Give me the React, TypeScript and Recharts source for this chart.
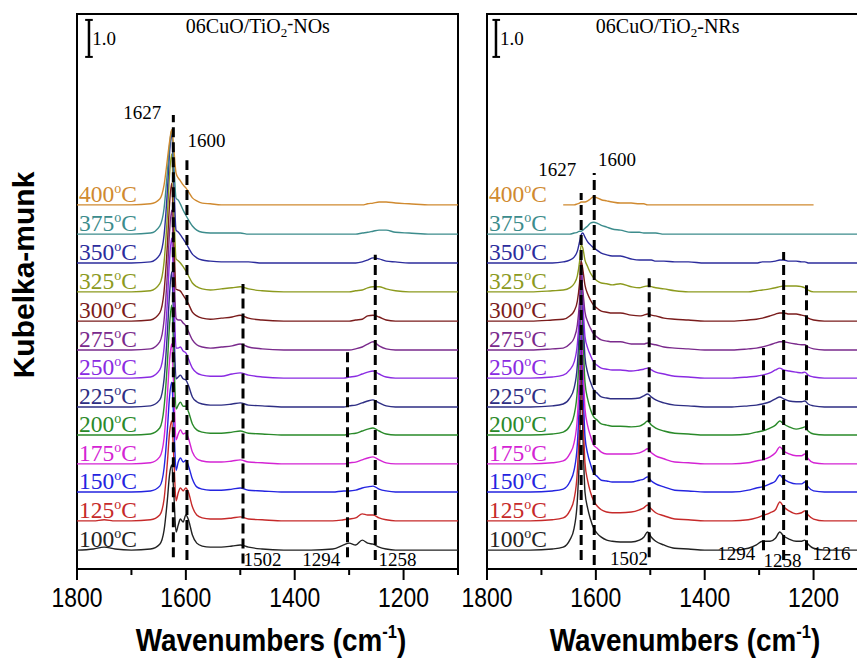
import React from 'react';
import { LineChart, Line, XAxis, YAxis, ReferenceLine, ReferenceDot, ReferenceArea } from 'recharts';

// ---------- data ----------
const TEMPS = [100, 125, 150, 175, 200, 225, 250, 275, 300, 325, 350, 375, 400];
const COLORS = ['#222222', '#c62a2a', '#2424e0', '#d424d4', '#2a8a2a', '#2e2e84', '#8a2be2', '#7a2a8c', '#7a1c1c', '#8c9a1e', '#2c2c9c', '#3c8c8c', '#d08a30'];
// vertical stacking offsets (Kubelka-Munk units)
const OFFSETS = [0.51, 1.3, 2.08, 2.84, 3.62, 4.38, 5.16, 5.92, 6.7, 7.49, 8.27, 9.05, 9.84];

const X_TICKS = [1800, 1700, 1600, 1500, 1400, 1300, 1200, 1100];

// 06CuO/TiO2-NOs
const WN_NOS = [1800, 1770, 1750, 1730, 1700, 1665, 1648, 1640, 1634, 1630, 1626, 1622, 1618, 1614, 1610, 1605, 1600, 1595, 1588, 1580, 1570, 1555, 1535, 1515, 1500, 1485, 1460, 1420, 1370, 1330, 1310, 1300, 1288, 1276, 1266, 1256, 1245, 1232, 1215, 1190, 1150, 1100];
const NOS_100 = [0, 0.03, 0.08, 0.03, 0, 0.03, 0.16, 0.54, 1.35, 2.03, 2.3, 1.49, 0.49, 0.68, 0.84, 0.76, 0.95, 0.81, 0.41, 0.19, 0.11, 0.08, 0.08, 0.11, 0.14, 0.08, 0.03, 0, 0, 0.03, 0.14, 0.19, 0.14, 0.27, 0.19, 0.16, 0.08, 0.03, 0, 0, 0, 0];
const NOS_125 = [0, 0, 0.03, 0, 0, 0.03, 0.16, 0.59, 1.57, 2.38, 2.7, 1.67, 0.54, 0.76, 0.89, 0.81, 0.89, 0.76, 0.38, 0.16, 0.08, 0.05, 0.05, 0.08, 0.11, 0.05, 0.03, 0, 0, 0, 0.03, 0.05, 0.08, 0.19, 0.16, 0.16, 0.08, 0.03, 0, 0, 0, 0];
const NOS_150 = [0, 0, 0, 0, 0, 0.03, 0.16, 0.65, 1.67, 2.57, 2.97, 1.84, 0.59, 0.81, 0.92, 0.81, 0.86, 0.7, 0.35, 0.14, 0.08, 0.05, 0.05, 0.08, 0.11, 0.05, 0.03, 0, 0, 0, 0.03, 0.03, 0.05, 0.11, 0.14, 0.16, 0.08, 0.03, 0, 0, 0, 0];
const NOS_175 = [0, 0, 0, 0, 0, 0.03, 0.19, 0.7, 1.84, 2.78, 3.24, 1.94, 0.65, 0.81, 0.92, 0.81, 0.84, 0.68, 0.32, 0.14, 0.08, 0.05, 0.05, 0.08, 0.11, 0.05, 0.03, 0, 0, 0, 0, 0.03, 0.05, 0.11, 0.16, 0.19, 0.11, 0.03, 0, 0, 0, 0];
const NOS_200 = [0, 0, 0, 0, 0, 0.03, 0.19, 0.76, 1.94, 2.97, 3.51, 2.11, 0.7, 0.81, 0.89, 0.78, 0.78, 0.62, 0.3, 0.14, 0.08, 0.05, 0.05, 0.08, 0.11, 0.05, 0.03, 0, 0, 0, 0, 0.03, 0.05, 0.11, 0.16, 0.19, 0.11, 0.03, 0, 0, 0, 0];
const NOS_225 = [0, 0, 0, 0, 0, 0.03, 0.19, 0.76, 2.0, 3.05, 3.65, 2.16, 0.76, 0.81, 0.86, 0.76, 0.73, 0.57, 0.27, 0.14, 0.08, 0.05, 0.05, 0.08, 0.11, 0.05, 0.03, 0, 0, 0, 0, 0.03, 0.05, 0.11, 0.16, 0.19, 0.11, 0.03, 0, 0, 0, 0];
const NOS_250 = [0, 0, 0, 0, 0, 0.03, 0.22, 0.81, 2.05, 3.19, 3.78, 2.27, 0.81, 0.81, 0.84, 0.73, 0.68, 0.51, 0.27, 0.14, 0.08, 0.05, 0.05, 0.11, 0.14, 0.08, 0.03, 0, 0, 0, 0, 0.03, 0.05, 0.11, 0.16, 0.19, 0.11, 0.03, 0, 0, 0, 0];
const NOS_275 = [0, 0, 0, 0, 0, 0.03, 0.22, 0.81, 2.05, 3.19, 3.78, 2.27, 0.86, 0.81, 0.81, 0.73, 0.65, 0.49, 0.27, 0.14, 0.08, 0.05, 0.08, 0.11, 0.16, 0.08, 0.03, 0, 0, 0, 0, 0, 0.03, 0.08, 0.16, 0.22, 0.11, 0.03, 0, 0, 0, 0];
const NOS_300 = [0, 0, 0, 0, 0, 0.03, 0.22, 0.81, 2.05, 3.16, 3.73, 2.24, 0.86, 0.84, 0.81, 0.7, 0.59, 0.46, 0.24, 0.14, 0.08, 0.05, 0.08, 0.11, 0.16, 0.08, 0.03, 0, 0, 0, 0, 0, 0.03, 0.05, 0.14, 0.16, 0.11, 0.03, 0, 0, 0, 0];
const NOS_325 = [0, 0, 0, 0, 0, 0.03, 0.22, 0.81, 2.05, 3.16, 3.73, 2.24, 0.89, 0.84, 0.78, 0.68, 0.57, 0.43, 0.24, 0.14, 0.08, 0.05, 0.08, 0.11, 0.14, 0.08, 0.03, 0, 0, 0, 0, 0, 0.03, 0.05, 0.11, 0.14, 0.14, 0.08, 0.03, 0, 0, 0];
const NOS_350 = [0, 0, 0, 0, 0, 0.03, 0.22, 0.76, 1.94, 2.97, 3.51, 2.16, 0.89, 0.84, 0.76, 0.65, 0.54, 0.41, 0.24, 0.14, 0.08, 0.05, 0.03, 0.03, 0.03, 0.03, 0, 0, 0, 0, 0, 0, 0, 0.03, 0.08, 0.14, 0.11, 0.05, 0.03, 0, 0, 0];
const NOS_375 = [0, 0, 0, 0, 0, 0.03, 0.22, 0.7, 1.67, 2.38, 2.81, 1.89, 0.97, 0.92, 0.81, 0.65, 0.51, 0.38, 0.22, 0.11, 0.05, 0.03, 0.03, 0.03, 0.03, 0, 0, 0, 0, 0, 0, 0, 0, 0.03, 0.05, 0.08, 0.11, 0.11, 0.05, 0.03, 0, 0];
const NOS_400 = [0, 0, 0, 0, 0, 0.03, 0.16, 0.54, 1.22, 1.7, 2.03, 1.49, 0.86, 0.73, 0.65, 0.54, 0.46, 0.35, 0.19, 0.11, 0.05, 0.03, 0, 0, 0, 0, 0, 0, 0, 0, 0, 0, 0, 0, 0.03, 0.05, 0.08, 0.08, 0.05, 0.03, 0, 0];

// 06CuO/TiO2-NRs
const WN_NRS = [1800, 1720, 1680, 1660, 1648, 1640, 1634, 1630, 1627, 1624, 1620, 1615, 1610, 1604, 1598, 1590, 1580, 1570, 1555, 1535, 1520, 1512, 1505, 1498, 1490, 1475, 1455, 1430, 1400, 1350, 1320, 1305, 1294, 1280, 1270, 1262, 1255, 1245, 1232, 1222, 1216, 1210, 1200, 1180, 1140, 1100];
const NRS_100 = [0, 0, 0.03, 0.08, 0.27, 0.59, 1.35, 2.7, 4.86, 3.24, 1.57, 1.13, 0.84, 0.59, 0.46, 0.35, 0.27, 0.24, 0.22, 0.22, 0.27, 0.35, 0.49, 0.35, 0.24, 0.14, 0.05, 0.03, 0, 0, 0.05, 0.14, 0.24, 0.24, 0.32, 0.49, 0.38, 0.3, 0.24, 0.24, 0.27, 0.16, 0.05, 0, 0, 0];
const NRS_125 = [0, 0, 0.03, 0.08, 0.27, 0.59, 1.35, 2.7, 4.73, 3.19, 1.57, 1.08, 0.78, 0.54, 0.41, 0.3, 0.24, 0.22, 0.22, 0.24, 0.3, 0.35, 0.43, 0.32, 0.22, 0.14, 0.05, 0.03, 0, 0, 0.03, 0.08, 0.14, 0.22, 0.3, 0.51, 0.38, 0.27, 0.19, 0.22, 0.27, 0.16, 0.05, 0, 0, 0];
const NRS_150 = [0, 0, 0.03, 0.08, 0.27, 0.59, 1.3, 2.65, 4.59, 3.11, 1.51, 1.03, 0.76, 0.51, 0.43, 0.32, 0.3, 0.27, 0.27, 0.27, 0.32, 0.35, 0.41, 0.3, 0.22, 0.14, 0.05, 0.03, 0, 0, 0.05, 0.11, 0.14, 0.22, 0.3, 0.46, 0.35, 0.27, 0.22, 0.22, 0.27, 0.14, 0.03, 0, 0, 0];
const NRS_175 = [0, 0, 0.03, 0.08, 0.27, 0.57, 1.24, 2.57, 4.46, 3.02, 1.49, 1.03, 0.76, 0.51, 0.43, 0.32, 0.27, 0.27, 0.27, 0.27, 0.3, 0.35, 0.41, 0.3, 0.22, 0.14, 0.05, 0.03, 0, 0, 0.03, 0.08, 0.11, 0.19, 0.3, 0.46, 0.35, 0.27, 0.22, 0.22, 0.27, 0.14, 0.03, 0, 0, 0];
const NRS_200 = [0, 0, 0.03, 0.08, 0.24, 0.54, 1.22, 2.48, 4.32, 2.92, 1.43, 0.97, 0.7, 0.49, 0.41, 0.3, 0.27, 0.24, 0.24, 0.22, 0.24, 0.3, 0.38, 0.27, 0.19, 0.11, 0.05, 0.03, 0, 0, 0.03, 0.08, 0.11, 0.19, 0.27, 0.38, 0.3, 0.22, 0.16, 0.19, 0.22, 0.11, 0.03, 0, 0, 0];
const NRS_225 = [0, 0, 0.03, 0.08, 0.24, 0.51, 1.13, 2.32, 4.05, 2.7, 1.35, 0.92, 0.68, 0.46, 0.38, 0.27, 0.24, 0.22, 0.22, 0.22, 0.24, 0.3, 0.35, 0.27, 0.19, 0.11, 0.05, 0.03, 0, 0, 0.03, 0.05, 0.08, 0.14, 0.22, 0.27, 0.22, 0.16, 0.14, 0.14, 0.16, 0.08, 0.03, 0, 0, 0];
const NRS_250 = [0, 0, 0.03, 0.08, 0.22, 0.43, 0.92, 1.78, 2.97, 2.11, 1.13, 0.81, 0.62, 0.43, 0.35, 0.27, 0.24, 0.22, 0.22, 0.19, 0.22, 0.24, 0.27, 0.22, 0.16, 0.11, 0.05, 0.03, 0, 0, 0.03, 0.05, 0.08, 0.14, 0.22, 0.27, 0.22, 0.19, 0.16, 0.14, 0.16, 0.08, 0.03, 0, 0, 0];
const NRS_275 = [0, 0, 0.03, 0.05, 0.16, 0.32, 0.68, 1.3, 2.03, 1.62, 1.03, 0.76, 0.59, 0.43, 0.35, 0.27, 0.24, 0.22, 0.22, 0.16, 0.16, 0.16, 0.19, 0.16, 0.14, 0.08, 0.05, 0.03, 0, 0, 0.03, 0.05, 0.08, 0.14, 0.19, 0.22, 0.22, 0.19, 0.16, 0.14, 0.14, 0.08, 0.03, 0, 0, 0];
const NRS_300 = [0, 0, 0.03, 0.05, 0.14, 0.27, 0.54, 1.03, 1.62, 1.4, 0.97, 0.73, 0.57, 0.43, 0.35, 0.27, 0.24, 0.22, 0.22, 0.16, 0.14, 0.16, 0.19, 0.16, 0.14, 0.08, 0.05, 0.03, 0, 0, 0.03, 0.05, 0.08, 0.14, 0.19, 0.22, 0.22, 0.19, 0.19, 0.16, 0.14, 0.08, 0.03, 0, 0, 0];
const NRS_325 = [0, 0, 0.03, 0.05, 0.11, 0.22, 0.43, 0.81, 1.27, 1.19, 0.86, 0.68, 0.51, 0.38, 0.3, 0.24, 0.22, 0.19, 0.22, 0.14, 0.11, 0.14, 0.16, 0.14, 0.11, 0.08, 0.03, 0, 0, 0, 0, 0.03, 0.05, 0.08, 0.11, 0.14, 0.16, 0.16, 0.16, 0.14, 0.11, 0.05, 0, 0, 0, 0];
const NRS_350 = [0, 0, 0, 0.03, 0.08, 0.16, 0.32, 0.57, 0.76, 0.81, 0.7, 0.57, 0.49, 0.41, 0.35, 0.27, 0.22, 0.19, 0.19, 0.11, 0.08, 0.08, 0.08, 0.08, 0.05, 0.05, 0.03, 0.03, 0, 0, 0, 0, 0.03, 0.03, 0.05, 0.08, 0.08, 0.05, 0.05, 0.03, 0.03, 0, 0, 0, 0, 0];
const NRS_375 = [0, 0, 0, 0, 0, 0.03, 0.05, 0.08, 0.08, 0.11, 0.16, 0.22, 0.3, 0.32, 0.3, 0.24, 0.19, 0.14, 0.11, 0.05, 0.05, 0.03, 0.03, 0.03, 0.03, 0, 0, 0, 0, 0, 0, 0, 0, 0, 0, 0, 0, 0, 0, 0, 0, 0, 0, 0, 0, 0];
const NRS_400 = [null, null, null, 0, 0, 0, 0.03, 0.05, 0.08, 0.08, 0.08, 0.11, 0.16, 0.22, 0.19, 0.14, 0.11, 0.08, 0.05, 0.05, 0.03, 0.03, 0, 0, 0, 0, 0, 0, 0, 0, 0, 0, 0, 0, 0, 0, 0, 0, 0, 0, 0, 0, 0, null, null, null];

// dashed marker lines: wavenumber position, bottom, top (KM units)
const NOS_MARKS = [
  { w: 1623, y1: 0.32, y2: 12.27 },
  { w: 1598, y1: 0.24, y2: 11.05 },
  { w: 1495, y1: 0.15, y2: 7.7 },
  { w: 1303, y1: 0.32, y2: 5.92 },
  { w: 1252, y1: 0.24, y2: 8.49 },
];
const NRS_MARKS = [
  { w: 1627, y1: 0.24, y2: 10.16 },
  { w: 1603, y1: 0.11, y2: 10.7 },
  { w: 1502, y1: 0.32, y2: 7.86 },
  { w: 1292, y1: 0.51, y2: 5.97 },
  { w: 1255, y1: 0.24, y2: 8.57 },
  { w: 1213, y1: 0.51, y2: 7.73 },
];
// band labels: text, wavenumber (left edge of text), y (baseline)
const NOS_BANDS = [
  { t: '1627', w: 1715, y: 12.16 },
  { t: '1600', w: 1597, y: 11.41 },
  { t: '1502', w: 1494, y: 0.08 },
  { t: '1294', w: 1386, y: 0.08 },
  { t: '1258', w: 1246, y: 0.08 },
];
const NRS_BANDS = [
  { t: '1627', w: 1706, y: 10.62 },
  { t: '1600', w: 1596, y: 10.9 },
  { t: '1502', w: 1574, y: 0.11 },
  { t: '1294', w: 1377, y: 0.24 },
  { t: '1258', w: 1292, y: 0.05 },
  { t: '1216', w: 1202, y: 0.24 },
];

const NOS_SERIES = [NOS_100, NOS_125, NOS_150, NOS_175, NOS_200, NOS_225, NOS_250, NOS_275, NOS_300, NOS_325, NOS_350, NOS_375, NOS_400];
const NRS_SERIES = [NRS_100, NRS_125, NRS_150, NRS_175, NRS_200, NRS_225, NRS_250, NRS_275, NRS_300, NRS_325, NRS_350, NRS_375, NRS_400];

function buildRows(wn: number[], series: (number | null)[][]) {
  return wn.map((w, i) => {
    const row: any = { w };
    series.forEach((s, k) => {
      const v = s[i];
      row['t' + TEMPS[k]] = v == null ? null : +(v + OFFSETS[k]).toFixed(3);
    });
    return row;
  });
}

const NOS_ROWS = buildRows(WN_NOS, NOS_SERIES);
const NRS_ROWS = buildRows(WN_NRS, NRS_SERIES);

const SERIF = '"Liberation Serif", "Times New Roman", serif';
const SANS = '"Liberation Sans", Arial, sans-serif';

const AxisTick = (props: any) => {
  const { x, y, payload } = props;
  const major = payload.value % 200 === 0;
  return (
    <g>
      <line x1={x} x2={x} y1={y} y2={y + (major ? 11 : 6)} stroke="#000" strokeWidth={2} />
      {major && (
        <text
          transform={`translate(${x} ${y + 38}) scale(0.85 1)`}
          x={0}
          y={0}
          textAnchor="middle"
          fontFamily={SANS}
          fontSize={27}
          fill="#000"
        >
          {payload.value}
        </text>
      )}
    </g>
  );
};

function textDot(key: string, x: number, y: number, render: (cx: number, cy: number) => any) {
  return (
    <ReferenceDot
      key={key}
      x={x}
      y={y}
      r={0}
      ifOverflow="visible"
      fill="none"
      stroke="none"
      shape={(p: any) => render(p.cx, p.cy)}
    />
  );
}

function Panel({ rows, marks, bands, title, barW, barText, capL, capR, left, nos }: any) {
  return (
    <div style={{ position: 'absolute', left, top: 0 }}>
      <LineChart width={470} height={659} data={rows} margin={{ top: 14, right: 12, bottom: 0, left: 77 }}>
        <XAxis
          dataKey="w"
          type="number"
          domain={[1100, 1800]}
          reversed
          ticks={X_TICKS}
          interval={0}
          tickSize={0}
          tickMargin={0}
          axisLine={false}
          tickLine={false}
          height={90}
          tick={<AxisTick />}
          allowDataOverflow
        />
        <YAxis hide type="number" domain={[0, 15]} allowDataOverflow />
        <ReferenceArea x1={1800} x2={1100} y1={0} y2={15} fill="none" fillOpacity={0} stroke="#000" strokeWidth={2} ifOverflow="visible" />
        {TEMPS.map((t, k) => (
          <Line
            key={t}
            dataKey={'t' + t}
            type="monotone"
            stroke={COLORS[k]}
            strokeWidth={1.4}
            dot={false}
            activeDot={false}
            isAnimationActive={false}
            connectNulls={false}
          />
        ))}
        {marks.map((m: any, i: number) => (
          <ReferenceLine
            key={'m' + i}
            segment={[{ x: m.w, y: m.y1 }, { x: m.w, y: m.y2 }]}
            stroke="#000"
            strokeWidth={3}
            strokeDasharray="10 5"
            ifOverflow="visible"
          />
        ))}
        {/* scale bar */}
        <ReferenceLine segment={[{ x: barW, y: 13.84 }, { x: barW, y: 14.84 }]} stroke="#000" strokeWidth={2.5} ifOverflow="visible" />
        <ReferenceLine segment={[{ x: capL, y: 13.84 }, { x: capR, y: 13.84 }]} stroke="#000" strokeWidth={2} ifOverflow="visible" />
        <ReferenceLine segment={[{ x: capL, y: 14.84 }, { x: capR, y: 14.84 }]} stroke="#000" strokeWidth={2} ifOverflow="visible" />
        {textDot('bar', barText, 14.15, (cx, cy) => (
          <text x={cx} y={cy} fontFamily={SERIF} fontSize={19} fill="#000">1.0</text>
        ))}
        {textDot('title', 1600, 14.49, (cx, cy) => (
          <text x={cx} y={cy} fontFamily={SERIF} fontSize={20} fill="#000">
            06CuO/TiO<tspan dy={4} fontSize={13}>2</tspan>
            {nos ? <tspan dy={-8} fontSize={18}>-</tspan> : <tspan dy={-4}>-</tspan>}
            {nos ? <tspan dy={4}>{title}</tspan> : <tspan>{title}</tspan>}
          </text>
        ))}
        {bands.map((b: any, i: number) =>
          textDot('b' + i, b.w, b.y, (cx, cy) => (
            <text x={cx} y={cy} fontFamily={SERIF} fontSize={19} fill="#000">{b.t}</text>
          ))
        )}
        {TEMPS.map((t, k) =>
          textDot('lab' + t, 1800, OFFSETS[k], (cx, cy) => (
            <text x={cx + 2} y={cy - 3} fontFamily={SERIF} fontSize={23.5} fill={COLORS[k]}>
              {t}
              <tspan dy={-9} fontSize={14}>o</tspan>
              <tspan dy={9}>C</tspan>
            </text>
          ))
        )}
      </LineChart>
    </div>
  );
}

export default function App() {
  return (
    <div style={{ position: 'absolute', left: 0, top: 0, width: 857, height: 659, overflow: 'hidden', background: '#fff' }}>
      <Panel
        rows={NOS_ROWS}
        marks={NOS_MARKS}
        bands={NOS_BANDS}
        title="NOs"
        nos
        barW={1778}
        capL={1785}
        capR={1771}
        barText={1772}
        left={0}
      />
      <Panel
        rows={NRS_ROWS}
        marks={NRS_MARKS}
        bands={NRS_BANDS}
        title="NRs"
        barW={1783.5}
        capL={1790}
        capR={1776}
        barText={1776}
        left={410}
      />
      <svg width={857} height={659} style={{ position: 'absolute', left: 0, top: 0, pointerEvents: 'none' }}>
        <text transform="translate(271 651) scale(0.87 1)" x={0} y={0} textAnchor="middle" fontFamily={SANS} fontWeight="bold" fontSize={32} fill="#000">
          Wavenumbers (cm<tspan dy={-13} fontSize={19}>-1</tspan>
          <tspan dy={13}>)</tspan>
        </text>
        <text transform="translate(685 651) scale(0.87 1)" x={0} y={0} textAnchor="middle" fontFamily={SANS} fontWeight="bold" fontSize={32} fill="#000">
          Wavenumbers (cm<tspan dy={-13} fontSize={19}>-1</tspan>
          <tspan dy={13}>)</tspan>
        </text>
        <text x={34} y={275} textAnchor="middle" transform="rotate(-90 34 275)" fontFamily={SANS} fontWeight="bold" fontSize={30} fill="#000">
          Kubelka-munk
        </text>
      </svg>
    </div>
  );
}
